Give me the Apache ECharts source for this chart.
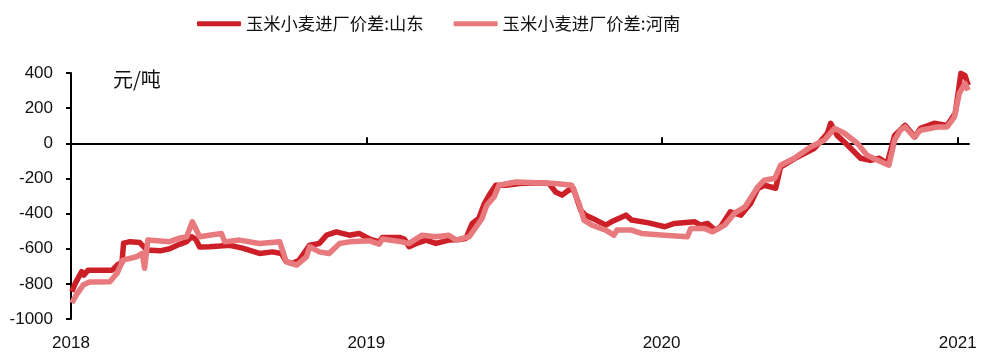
<!DOCTYPE html>
<html>
<head>
<meta charset="utf-8">
<script src="https://cdn.jsdelivr.net/npm/echarts@6/dist/echarts.min.js"></script>
<style>
  html, body { margin: 0; padding: 0; background: #fff; }
  #chart { width: 981px; height: 355px; }
</style>
</head>
<body>
<div id="chart"></div>
<script>
// 玉米小麦进厂价差（元/吨）
const seriesNames = ['玉米小麦进厂价差:山东', '玉米小麦进厂价差:河南'];
const unitLabel = '元/吨';
const yearTicks = ['2018-01-01', '2019-01-01', '2020-01-01', '2021-01-01'];

const shandong = [
  ['2018-01-02', -845], ['2018-01-06', -800], ['2018-01-14', -731], ['2018-01-17', -750],
  ['2018-01-22', -722], ['2018-02-06', -722], ['2018-02-21', -722], ['2018-02-28', -690],
  ['2018-03-05', -680], ['2018-03-07', -568], ['2018-03-15', -560], ['2018-03-27', -565],
  ['2018-04-05', -608], ['2018-04-21', -612], ['2018-05-03', -600], ['2018-05-15', -575],
  ['2018-05-24', -560], ['2018-05-30', -532], ['2018-06-04', -545], ['2018-06-09', -590],
  ['2018-06-21', -589], ['2018-07-04', -585], ['2018-07-16', -580], ['2018-08-01', -597],
  ['2018-08-22', -627], ['2018-09-07', -618], ['2018-09-18', -627], ['2018-09-24', -674],
  ['2018-10-02', -684], ['2018-10-10', -665], ['2018-10-23', -580], ['2018-11-04', -570],
  ['2018-11-13', -523], ['2018-11-25', -504], ['2018-12-11', -523], ['2018-12-23', -513],
  ['2019-01-05', -545], ['2019-01-17', -561], ['2019-01-21', -536], ['2019-02-11', -536],
  ['2019-02-17', -545], ['2019-02-23', -589], ['2019-03-04', -570], ['2019-03-16', -551],
  ['2019-03-28', -570], ['2019-04-13', -551], ['2019-04-26', -548], ['2019-05-04', -542],
  ['2019-05-12', -456], ['2019-05-20', -428], ['2019-05-27', -343], ['2019-06-02', -295],
  ['2019-06-10', -239], ['2019-06-23', -239], ['2019-07-09', -229], ['2019-07-30', -225],
  ['2019-08-15', -229], ['2019-08-23', -277], ['2019-08-31', -295], ['2019-09-08', -267],
  ['2019-09-14', -258], ['2019-09-23', -381], ['2019-09-29', -409], ['2019-10-12', -437],
  ['2019-10-24', -466], ['2019-10-31', -447], ['2019-11-09', -428], ['2019-11-18', -409],
  ['2019-11-25', -437], ['2019-12-16', -453], ['2020-01-05', -475], ['2020-01-17', -456],
  ['2020-02-11', -447], ['2020-02-18', -466], ['2020-02-27', -456], ['2020-03-07', -494],
  ['2020-03-14', -475], ['2020-03-26', -390], ['2020-04-08', -409], ['2020-04-20', -343],
  ['2020-04-29', -258], ['2020-05-07', -239], ['2020-05-21', -256], ['2020-05-27', -136],
  ['2020-06-17', -78], ['2020-07-08', -28], ['2020-07-24', 57], ['2020-07-28', 114],
  ['2020-08-05', 45], ['2020-08-18', -11], ['2020-09-03', -85], ['2020-09-15', -97],
  ['2020-09-26', -85], ['2020-10-06', -114], ['2020-10-15', 45], ['2020-10-28', 102],
  ['2020-11-09', 36], ['2020-11-16', 85], ['2020-12-03', 114], ['2020-12-19', 102],
  ['2020-12-29', 170], ['2021-01-05', 398], ['2021-01-10', 386], ['2021-01-14', 330]
];

const henan = [
  ['2018-01-02', -909], ['2018-01-08', -860], ['2018-01-16', -807], ['2018-01-24', -790],
  ['2018-02-18', -788], ['2018-02-27', -740], ['2018-03-06', -665], ['2018-03-23', -646],
  ['2018-03-30', -626], ['2018-04-02', -711], ['2018-04-06', -551], ['2018-05-03', -560],
  ['2018-05-15', -540], ['2018-05-24', -532], ['2018-05-31', -447], ['2018-06-09', -532],
  ['2018-06-21', -523], ['2018-07-06', -513], ['2018-07-10', -561], ['2018-07-28', -551],
  ['2018-08-22', -570], ['2018-09-16', -561], ['2018-09-24', -674], ['2018-10-07', -693],
  ['2018-10-19', -646], ['2018-10-23', -589], ['2018-11-04', -618], ['2018-11-16', -627],
  ['2018-11-29', -570], ['2018-12-11', -561], ['2019-01-05', -555], ['2019-01-17', -574],
  ['2019-01-21', -545], ['2019-02-14', -561], ['2019-02-23', -570], ['2019-03-11', -523],
  ['2019-03-28', -532], ['2019-04-13', -523], ['2019-04-22', -551], ['2019-05-08', -532],
  ['2019-05-17', -475], ['2019-05-24', -428], ['2019-05-30', -352], ['2019-06-08', -305],
  ['2019-06-14', -239], ['2019-07-05', -220], ['2019-07-30', -225], ['2019-08-23', -229],
  ['2019-09-12', -239], ['2019-09-21', -343], ['2019-09-27', -437], ['2019-10-07', -466],
  ['2019-10-24', -494], ['2019-11-03', -523], ['2019-11-07', -494], ['2019-11-25', -494],
  ['2019-12-07', -513], ['2020-01-05', -523], ['2020-02-02', -532], ['2020-02-06', -485],
  ['2020-02-23', -485], ['2020-03-04', -504], ['2020-03-19', -466], ['2020-03-31', -399],
  ['2020-04-13', -362], ['2020-04-29', -248], ['2020-05-07', -210], ['2020-05-20', -199],
  ['2020-05-27', -125], ['2020-06-13', -85], ['2020-07-03', -21], ['2020-07-20', 17],
  ['2020-08-02', 85], ['2020-08-14', 57], ['2020-08-30', 0], ['2020-09-11', -68],
  ['2020-09-24', -97], ['2020-10-08', -125], ['2020-10-15', 17], ['2020-10-22', 74],
  ['2020-10-28', 93], ['2020-11-08', 36], ['2020-11-16', 74], ['2020-12-07', 93],
  ['2020-12-19', 93], ['2020-12-28', 150], ['2021-01-03', 284], ['2021-01-10', 341],
  ['2021-01-14', 301]
];

const colors = ['#CC1F27', '#E8797C'];
const FONT = '"Liberation Sans", Arial, sans-serif';
const CJK_FONT = '"Noto Sans CJK SC", "Liberation Sans", sans-serif';

// dates are placed on a numeric axis (ms timestamps) so that year ticks can be listed exactly
function toTime(s) {
  const p = s.split('-').map(Number);
  return Date.UTC(p[0], p[1] - 1, p[2]);
}
const tickValues = yearTicks.map(toTime);
const xMin = toTime('2018-01-01');
const xMax = toTime('2021-01-15');
const yearOf = v => String(new Date(v).getUTCFullYear());

const chart = echarts.init(document.getElementById('chart'), null, { renderer: 'canvas' });

chart.setOption({
  animation: false,
  backgroundColor: '#fff',
  color: colors,
  textStyle: { fontFamily: FONT },
  legend: {
    top: 10,
    left: 192,
    itemWidth: 44,
    itemHeight: 5,
    itemGap: 30,
    icon: 'roundRect',
    textStyle: { fontSize: 17.3, color: '#111', fontFamily: CJK_FONT },
    data: seriesNames
  },
  graphic: [{
    type: 'text',
    left: 113,
    top: 69,
    style: { text: unitLabel, fontSize: 20, fill: '#111', fontFamily: CJK_FONT }
  }],
  grid: { left: 71, right: 12, top: 73, bottom: 36, containLabel: false },
  xAxis: [{
    // year labels along the bottom edge
    type: 'value',
    min: xMin,
    max: xMax,
    position: 'bottom',
    axisLine: { show: false, onZero: false },
    axisTick: { show: false },
    splitLine: { show: false },
    axisLabel: {
      customValues: tickValues,
      formatter: yearOf,
      fontSize: 17,
      color: '#111',
      margin: 16,
      showMinLabel: true,
      showMaxLabel: true,
      fontFamily: FONT
    }
  }, {
    // baseline at zero with year ticks
    type: 'value',
    min: xMin,
    max: xMax,
    axisLine: { show: true, onZero: true, onZeroAxisIndex: 0, lineStyle: { color: '#000', width: 2 } },
    axisTick: { show: true, customValues: tickValues.slice(1), length: 6, inside: false, lineStyle: { color: '#000', width: 2 } },
    axisLabel: { show: false },
    splitLine: { show: false }
  }],
  yAxis: {
    type: 'value',
    min: -1000,
    max: 400,
    interval: 200,
    axisLine: { show: true, onZero: false, lineStyle: { color: '#000', width: 2 } },
    axisTick: { show: true, length: 5, lineStyle: { color: '#000', width: 2 } },
    splitLine: { show: false },
    axisLabel: { fontSize: 17, color: '#111', margin: 18, fontFamily: FONT, formatter: v => String(v) }
  },
  series: [{
    name: seriesNames[0],
    type: 'line',
    xAxisIndex: 0,
    data: shandong.map(d => [toTime(d[0]), d[1]]),
    showSymbol: false,
    symbol: 'none',
    lineStyle: { width: 5.5, color: colors[0], join: 'round' },
    z: 2
  }, {
    name: seriesNames[1],
    type: 'line',
    xAxisIndex: 0,
    data: henan.map(d => [toTime(d[0]), d[1]]),
    showSymbol: false,
    symbol: 'none',
    lineStyle: { width: 5.5, color: colors[1], join: 'round' },
    z: 3
  }]
});
</script>
</body>
</html>
